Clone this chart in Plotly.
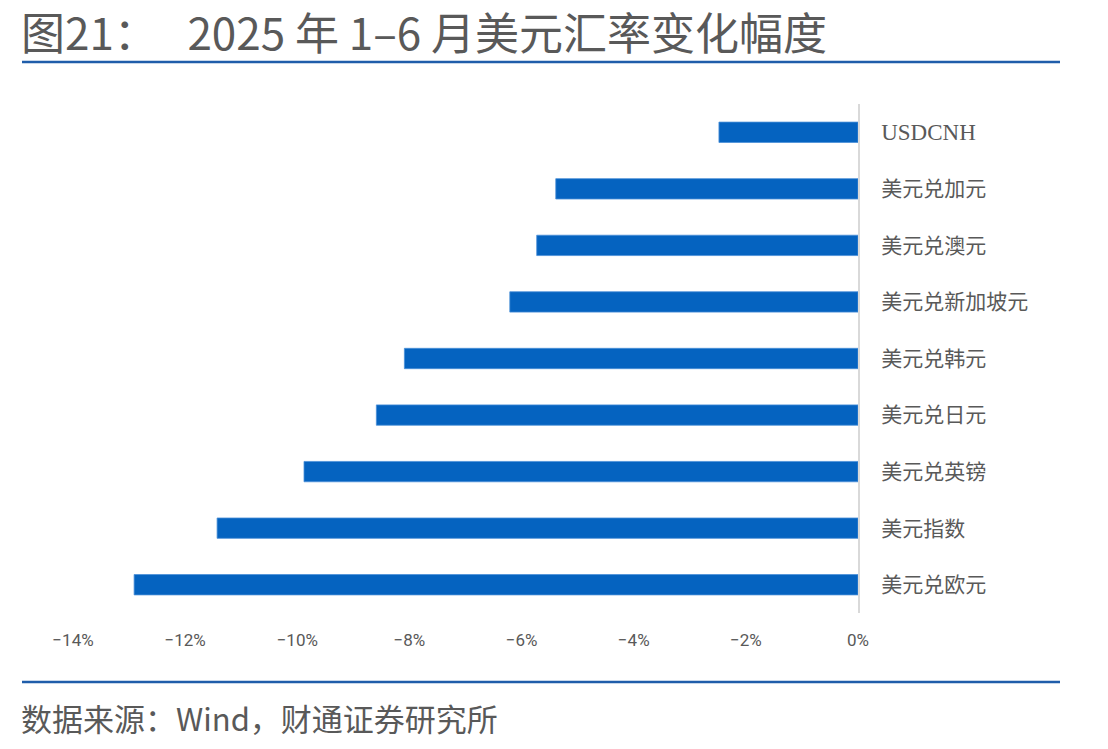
import plotly.graph_objects as go

# ---- data ----
categories = ["USDCNH", "美元兑加元", "美元兑澳元", "美元兑新加坡元", "美元兑韩元",
              "美元兑日元", "美元兑英镑", "美元指数", "美元兑欧元"]
changes = [-2.48, -5.39, -5.73, -6.21, -8.09, -8.59, -9.88, -11.43, -12.91]
x_ticks = [-14, -12, -10, -8, -6, -4, -2, 0]

title_text = "图21：\u00a0\u00a0 2025 年 1–6 月美元汇率变化幅度"
source_text = "数据来源：Wind，财通证券研究所"

# ---- layout geometry ----
W, H = 1108, 749
L, R, T, B = 73, 250, 104, 136
pw, ph = W - L - R, H - T - B

def px(x):
    return (x - L) / pw

def py(y):
    return 1 - (y - T) / ph

GREY = "#595959"
BLUE = "#0563C0"
RULE = "#1F5DAA"

def label(c):
    if all(ord(ch) < 128 for ch in c):
        return f"<span style='font-family:Liberation Serif;font-size:23px'>{c}</span>"
    return c

fig = go.Figure()
fig.add_trace(go.Bar(
    x=changes, y=categories, orientation="h",
    marker=dict(color=BLUE, line=dict(color="#4A8FD8", width=0.8)),
    hoverinfo="x+y",
))

fig.update_layout(
    width=W, height=H,
    margin=dict(l=L, r=R, t=T, b=B, pad=0),
    paper_bgcolor="white", plot_bgcolor="white",
    showlegend=False, bargap=0.64,
    font=dict(family="Noto Sans CJK SC", color=GREY),
    xaxis=dict(
        range=[-14, 0], tickvals=x_ticks, ticktext=[f"{v}%" if v >= 0 else f"−{-v}%" for v in x_ticks],
        showgrid=False, zeroline=False, showline=False, ticks="",
        tickfont=dict(family="Roboto, Noto Sans", size=17, color=GREY),
        ticklabelstandoff=15, fixedrange=True,
    ),
    yaxis=dict(
        side="right", autorange="reversed",
        tickvals=categories, ticktext=[label(c) for c in categories],
        showgrid=False, zeroline=False, showline=True, linecolor="#D9D9D9", linewidth=2,
        ticks="", ticklabelstandoff=17,
        tickfont=dict(family="Noto Sans CJK SC", size=21, color=GREY),
        fixedrange=True,
    ),
    shapes=[
        dict(type="line", xref="paper", yref="paper", x0=px(22), x1=px(1060), y0=py(62), y1=py(62),
             line=dict(color=RULE, width=2.5)),
        dict(type="line", xref="paper", yref="paper", x0=px(22), x1=px(1060), y0=py(682), y1=py(682),
             line=dict(color=RULE, width=2.5)),
    ],
    annotations=[
        dict(text=title_text, xref="paper", yref="paper", x=px(19), y=py(31),
             xanchor="left", yanchor="middle", showarrow=False,
             font=dict(family="Noto Sans CJK SC", size=44, color=GREY)),
        dict(text=source_text, xref="paper", yref="paper", x=px(19), y=py(717),
             xanchor="left", yanchor="middle", showarrow=False,
             font=dict(family="Noto Sans CJK SC", size=31, color=GREY)),
    ],
)

fig.write_html("out.html")
